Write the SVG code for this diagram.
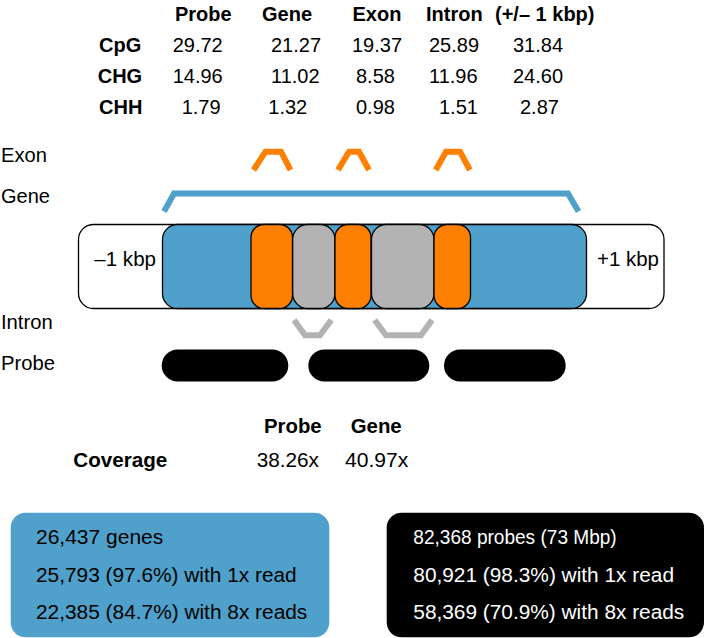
<svg xmlns="http://www.w3.org/2000/svg" width="709" height="638" viewBox="0 0 709 638">
<style>
text{font-family:"Liberation Sans",Arial,Helvetica,sans-serif;fill:#000}
.t{font-size:20px}
.b{font-weight:bold}
.m{font-size:20px}
.w{fill:#fff}
.blue{fill:#4fa1cb}
.seg{stroke:#000;stroke-width:1.3}
.cap{fill:none;stroke-width:6;stroke-linejoin:miter;stroke-linecap:butt}
</style>
<rect width="709" height="638" fill="#fff"/>
<g id="table-methylation">
<text class="t b" x="175" y="21">Probe</text>
<text class="t b" x="262" y="21">Gene</text>
<text class="t b" x="352.5" y="21">Exon</text>
<text class="t b" x="426" y="21">Intron</text>
<text class="t b" x="495" y="21">(+/– 1 kbp)</text>
<text class="t b" x="99" y="52">CpG</text>
<text class="t b" x="97.7" y="83">CHG</text>
<text class="t b" x="99" y="114">CHH</text>
<text class="t" x="172.7" y="52">29.72</text>
<text class="t" x="271" y="52">21.27</text>
<text class="t" x="352" y="52">19.37</text>
<text class="t" x="429" y="52">25.89</text>
<text class="t" x="513" y="52">31.84</text>
<text class="t" x="172.7" y="83">14.96</text>
<text class="t" x="271" y="83">11.02</text>
<text class="t" x="356" y="83">8.58</text>
<text class="t" x="429" y="83">11.96</text>
<text class="t" x="513" y="83">24.60</text>
<text class="t" x="181.7" y="114">1.79</text>
<text class="t" x="268.3" y="114">1.32</text>
<text class="t" x="356" y="114">0.98</text>
<text class="t" x="439" y="114">1.51</text>
<text class="t" x="520" y="114">2.87</text>
</g>
<g id="labels">
<text class="m" x="1" y="161.7" textLength="46" lengthAdjust="spacingAndGlyphs">Exon</text>
<text class="m" x="1" y="202.7" textLength="49" lengthAdjust="spacingAndGlyphs">Gene</text>
<text class="m" x="1" y="329.3" textLength="51.7" lengthAdjust="spacingAndGlyphs">Intron</text>
<text class="m" x="1" y="370" textLength="54" lengthAdjust="spacingAndGlyphs">Probe</text>
</g>
<g id="region">
<rect x="78.5" y="224.5" width="585.5" height="84" rx="15" fill="#fff" class="seg"/>
<text class="m" x="94.3" y="266" textLength="61.7" lengthAdjust="spacingAndGlyphs">–1 kbp</text>
<text class="m" x="597" y="266" textLength="62" lengthAdjust="spacingAndGlyphs">+1 kbp</text>
</g>
<g id="gene">
<rect x="162.5" y="224.5" width="424" height="84" rx="15" class="blue seg"/>
</g>
<g id="exon1"><rect x="251" y="224.5" width="41.5" height="84" rx="13" fill="#ff8000" class="seg"/></g>
<g id="intron1"><rect x="292.7" y="224.5" width="42.3" height="84" rx="15" fill="#b3b3b3" class="seg"/></g>
<g id="exon2"><rect x="335" y="224.5" width="36" height="84" rx="13" fill="#ff8000" class="seg"/></g>
<g id="intron2"><rect x="371.5" y="224.5" width="62.5" height="84" rx="15" fill="#b3b3b3" class="seg"/></g>
<g id="exon3"><rect x="434" y="224.5" width="36.5" height="84" rx="13" fill="#ff8000" class="seg"/></g>
<g id="probes">
<rect x="161.7" y="349.5" width="126.6" height="32" rx="16" fill="#000"/>
<rect x="308.3" y="349.5" width="121" height="32" rx="16" fill="#000"/>
<rect x="444" y="349.5" width="121.7" height="32" rx="16" fill="#000"/>
</g>
<g id="connectors">
<path class="cap" stroke="#4fa1cb" d="M164,211.5 L174,193.5 L568,193.5 L578.5,211.5"/>
<path class="cap" stroke="#ff8000" d="M253.5,170 L265.5,151.7 L281,151.7 L290.5,170"/>
<path class="cap" stroke="#ff8000" d="M338,170 L349,151.7 L359,151.7 L369,170"/>
<path class="cap" stroke="#ff8000" d="M435.7,170 L446,151.7 L460,151.7 L469.8,170"/>
<path class="cap" stroke="#b3b3b3" d="M294,320 L305,335.3 L320,335.3 L331.3,320"/>
<path class="cap" stroke="#b3b3b3" d="M374.7,320 L386,335.3 L421,335.3 L432,320"/>
</g>
<g id="coverage">
<text class="m b" x="264" y="433.3" textLength="57.7" lengthAdjust="spacingAndGlyphs">Probe</text>
<text class="m b" x="350.7" y="433.3" textLength="51" lengthAdjust="spacingAndGlyphs">Gene</text>
<text class="m b" x="73.3" y="466.7" textLength="94" lengthAdjust="spacingAndGlyphs">Coverage</text>
<text class="m" x="256.7" y="466.7" textLength="62.3" lengthAdjust="spacingAndGlyphs">38.26x</text>
<text class="m" x="345" y="466.7" textLength="63.3" lengthAdjust="spacingAndGlyphs">40.97x</text>
</g>
<g id="gene-stats">
<rect x="10.7" y="512.7" width="318.6" height="124.6" rx="15" class="blue"/>
<text class="m" x="36" y="544.3" textLength="127.3" lengthAdjust="spacingAndGlyphs">26,437 genes</text>
<text class="m" x="36" y="581.7" textLength="260.7" lengthAdjust="spacingAndGlyphs">25,793 (97.6%) with 1x read</text>
<text class="m" x="36" y="619" textLength="271.3" lengthAdjust="spacingAndGlyphs">22,385 (84.7%) with 8x reads</text>
</g>
<g id="probe-stats">
<rect x="386.7" y="512.7" width="317.3" height="124.6" rx="15" fill="#000"/>
<text class="m w" x="413.3" y="544.3" textLength="203.4" lengthAdjust="spacingAndGlyphs">82,368 probes (73 Mbp)</text>
<text class="m w" x="413.3" y="581.7" textLength="260.7" lengthAdjust="spacingAndGlyphs">80,921 (98.3%) with 1x read</text>
<text class="m w" x="413.3" y="619" textLength="271" lengthAdjust="spacingAndGlyphs">58,369 (70.9%) with 8x reads</text>
</g>
</svg>
